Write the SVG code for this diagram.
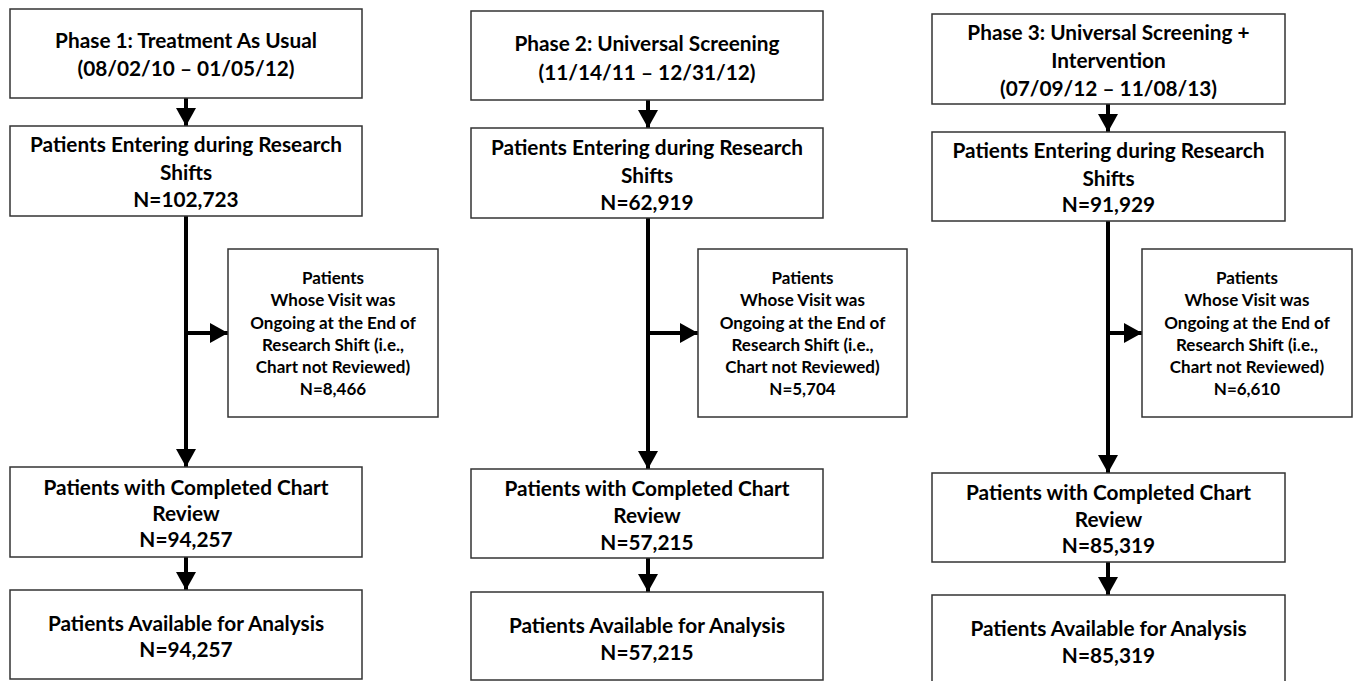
<svg xmlns="http://www.w3.org/2000/svg" width="1356" height="681" viewBox="0 0 1356 681">
<style>
.box{fill:#fff;stroke:#333;stroke-width:1.5}
.t{font-family:Lato,"Liberation Sans",sans-serif;font-weight:bold;font-size:20.8px;text-anchor:middle;fill:#000}
.s{font-family:Lato,"Liberation Sans",sans-serif;font-weight:bold;font-size:17px;text-anchor:middle;fill:#000}
.c{stroke:#000;stroke-width:4;fill:none;marker-end:url(#ah)}
</style>
<defs>
<marker id="ah" markerUnits="userSpaceOnUse" markerWidth="20" markerHeight="22" refX="18" refY="10" orient="auto">
<path d="M0,0 L18,10 L0,20 Z" fill="#000"/>
</marker>
</defs>
<rect width="1356" height="681" fill="#fff"/>
<g id="connectors">
<path class="c" d="M186,98 V126"/>
<path class="c" d="M186,216 V467"/>
<path class="c" d="M186,333 H228"/>
<path class="c" d="M186,557 V590"/>
<path class="c" d="M648,100 V128"/>
<path class="c" d="M648,218 V469"/>
<path class="c" d="M648,333 H698"/>
<path class="c" d="M648,558 V592"/>
<path class="c" d="M1108,104 V132"/>
<path class="c" d="M1108,221 V473"/>
<path class="c" d="M1108,333 H1142"/>
<path class="c" d="M1108,562 V595"/>
</g>
<g id="p1-phase"><rect class="box" x="10" y="9" width="352" height="89"/>
<text class="t" x="186" y="47.5">Phase 1: Treatment As Usual</text>
<text class="t" x="186" y="75.5">(08/02/10 – 01/05/12)</text></g>
<g id="p1-enter"><rect class="box" x="10" y="126" width="352" height="90"/>
<text class="t" x="186" y="151.5">Patients Entering during Research</text>
<text class="t" x="186" y="179.5">Shifts</text>
<text class="t" x="186" y="206.5">N=102,723</text></g>
<g id="p1-ongoing"><rect class="box" x="228" y="249" width="210" height="168"/>
<text class="s" x="333" y="284">Patients</text>
<text class="s" x="333" y="306">Whose Visit was</text>
<text class="s" x="333" y="328.5">Ongoing at the End of</text>
<text class="s" x="333" y="350.5">Research Shift (i.e.,</text>
<text class="s" x="333" y="373">Chart not Reviewed)</text>
<text class="s" x="333" y="395">N=8,466</text></g>
<g id="p1-complete"><rect class="box" x="10" y="467" width="352" height="90"/>
<text class="t" x="186" y="494.5">Patients with Completed Chart</text>
<text class="t" x="186" y="520.5">Review</text>
<text class="t" x="186" y="546.5">N=94,257</text></g>
<g id="p1-avail"><rect class="box" x="10" y="590" width="352" height="89"/>
<text class="t" x="186" y="630.5">Patients Available for Analysis</text>
<text class="t" x="186" y="656.5">N=94,257</text></g>

<g id="p2-phase"><rect class="box" x="471" y="11" width="352" height="89"/>
<text class="t" x="647" y="50.5">Phase 2: Universal Screening</text>
<text class="t" x="647" y="79.5">(11/14/11 – 12/31/12)</text></g>
<g id="p2-enter"><rect class="box" x="471" y="128" width="352" height="90"/>
<text class="t" x="647" y="154.5">Patients Entering during Research</text>
<text class="t" x="647" y="182.5">Shifts</text>
<text class="t" x="647" y="209.5">N=62,919</text></g>
<g id="p2-ongoing"><rect class="box" x="698" y="249" width="209" height="168"/>
<text class="s" x="802.5" y="284">Patients</text>
<text class="s" x="802.5" y="306">Whose Visit was</text>
<text class="s" x="802.5" y="328.5">Ongoing at the End of</text>
<text class="s" x="802.5" y="350.5">Research Shift (i.e.,</text>
<text class="s" x="802.5" y="373">Chart not Reviewed)</text>
<text class="s" x="802.5" y="395">N=5,704</text></g>
<g id="p2-complete"><rect class="box" x="471" y="469" width="352" height="89"/>
<text class="t" x="647" y="495.5">Patients with Completed Chart</text>
<text class="t" x="647" y="522.5">Review</text>
<text class="t" x="647" y="549.5">N=57,215</text></g>
<g id="p2-avail"><rect class="box" x="471" y="592" width="352" height="88"/>
<text class="t" x="647" y="632.5">Patients Available for Analysis</text>
<text class="t" x="647" y="659.5">N=57,215</text></g>

<g id="p3-phase"><rect class="box" x="932" y="14" width="353" height="90"/>
<text class="t" x="1108.5" y="39.5">Phase 3: Universal Screening +</text>
<text class="t" x="1108.5" y="67.5">Intervention</text>
<text class="t" x="1108.5" y="95.5">(07/09/12 – 11/08/13)</text></g>
<g id="p3-enter"><rect class="box" x="932" y="132" width="353" height="89"/>
<text class="t" x="1108.5" y="157.5">Patients Entering during Research</text>
<text class="t" x="1108.5" y="185.5">Shifts</text>
<text class="t" x="1108.5" y="211.5">N=91,929</text></g>
<g id="p3-ongoing"><rect class="box" x="1142" y="249" width="210" height="168"/>
<text class="s" x="1247" y="284">Patients</text>
<text class="s" x="1247" y="306">Whose Visit was</text>
<text class="s" x="1247" y="328.5">Ongoing at the End of</text>
<text class="s" x="1247" y="350.5">Research Shift (i.e.,</text>
<text class="s" x="1247" y="373">Chart not Reviewed)</text>
<text class="s" x="1247" y="395">N=6,610</text></g>
<g id="p3-complete"><rect class="box" x="932" y="473" width="353" height="89"/>
<text class="t" x="1108.5" y="499.5">Patients with Completed Chart</text>
<text class="t" x="1108.5" y="526.5">Review</text>
<text class="t" x="1108.5" y="552.5">N=85,319</text></g>
<g id="p3-avail"><rect class="box" x="932" y="595" width="353" height="92"/>
<text class="t" x="1108.5" y="635.5">Patients Available for Analysis</text>
<text class="t" x="1108.5" y="662.5">N=85,319</text></g>
</svg>
